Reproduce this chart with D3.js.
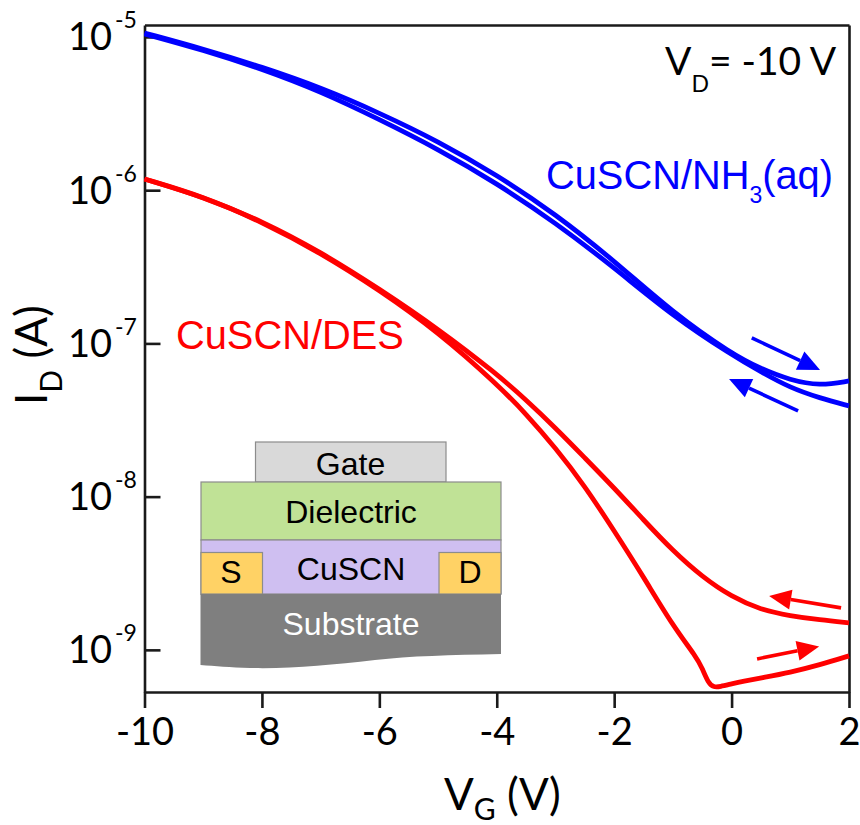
<!DOCTYPE html>
<html>
<head>
<meta charset="utf-8">
<script src="https://cdn.jsdelivr.net/npm/d3@7"></script>
<style>
  body { margin: 0; background: #fff; }
  svg { display: block; }
  text { font-family: Lato, sans-serif; fill: #000; }
  .inset text, .series-label { font-family: "Liberation Sans", Arial, sans-serif; }
  .axis path, .axis line { stroke: #1a1a1a; stroke-width: 2.6px; }
  .curve { fill: none; stroke-width: 4.8px; stroke-linejoin: round; stroke-linecap: butt; }
</style>
</head>
<body>
<svg width="860" height="825"></svg>
<script>
// gate voltage (V) and log10 of drain current (A)
const blueV = [-10, -9, -8, -7, -6, -5, -4, -3, -2, -1, 0, 0.5, 1, 1.5, 2];
const blueForward = [-4.974, -5.078, -5.196, -5.330, -5.495, -5.680, -5.900, -6.155, -6.460, -6.800, -7.068, -7.166, -7.240, -7.277, -7.245];
const blueReverse = [-4.980, -5.085, -5.209, -5.356, -5.538, -5.732, -5.955, -6.212, -6.505, -6.822, -7.075, -7.186, -7.290, -7.356, -7.408];

const redReverseV = [-10, -9, -8, -7, -6, -5, -4, -3.5, -3, -2.5, -2, -1.5, -1, -0.5, 0, 0.5, 1, 1.5, 2];
const redReverse = [-5.927, -6.044, -6.201, -6.403, -6.644, -6.905, -7.199, -7.369, -7.551, -7.747, -7.943, -8.152, -8.354, -8.524, -8.654, -8.739, -8.778, -8.804, -8.824];

const redForwardV = [-10, -9, -8, -7, -6, -5, -4, -3.5, -3, -2.5, -2, -1.5, -1, -0.6, -0.5, -0.4, -0.3, -0.2, 0, 0.2, 0.5, 1, 1.5, 2];
const redForward = [-5.927, -6.041, -6.207, -6.409, -6.651, -6.925, -7.264, -7.460, -7.682, -7.930, -8.223, -8.524, -8.843, -9.046, -9.120, -9.215, -9.245, -9.240, -9.222, -9.205, -9.183, -9.147, -9.098, -9.039];

const xTicks = [-10, -8, -6, -4, -2, 0, 2];
const yExponents = [-5, -6, -7, -8, -9];

const svg = d3.select('svg');
const margin = {top: 25, right: 11, bottom: 133, left: 144.5};
const width = +svg.attr('width');
const height = +svg.attr('height');

const xScale = d3.scaleLinear()
    .domain([-10, 2])
    .range([margin.left, width - margin.right]);

const yScale = d3.scaleLog()
    .domain([Math.pow(10, -9.275), Math.pow(10, -4.922)])
    .range([height - margin.bottom, margin.top]);

const pos = (v, logI) => [xScale(v), yScale(Math.pow(10, logI))];

// axes and frame
const xAxis = d3.axisBottom(xScale).tickValues(xTicks).tickSize(16).tickFormat('');
const yAxis = d3.axisLeft(yScale).tickValues(yExponents.map(e => Math.pow(10, e))).tickSize(-16).tickFormat('');

const xAxisG = svg.append('g')
    .attr('class', 'axis')
    .attr('transform', `translate(0, ${height - margin.bottom})`)
    .call(xAxis.tickSizeOuter(0));

const yAxisG = svg.append('g')
    .attr('class', 'axis')
    .attr('transform', `translate(${margin.left}, 0)`)
    .call(yAxis.tickSizeOuter(0));

svg.append('g')
    .attr('class', 'axis')
    .attr('transform', `translate(0, ${margin.top})`)
    .call(d3.axisTop(xScale).tickValues([]).tickSizeOuter(0));

svg.append('g')
    .attr('class', 'axis')
    .attr('transform', `translate(${width - margin.right}, 0)`)
    .call(d3.axisRight(yScale).tickValues([]).tickSizeOuter(0));

// tick labels
xAxisG.selectAll('.tick').append('text')
    .attr('y', 53)
    .attr('text-anchor', 'middle')
    .attr('font-size', 38)
    .text(d => d);

yExponents.forEach(e => {
    const y = yScale(Math.pow(10, e));
    svg.append('text')
        .attr('x', 112)
        .attr('y', y + 13.5)
        .attr('text-anchor', 'end')
        .attr('font-size', 38)
        .text('10');
    svg.append('text')
        .attr('x', 115)
        .attr('y', y - 8.5)
        .attr('font-size', 23)
        .text(e);
});

// inset device stack, under the curves
const inset = svg.append('g').attr('class', 'inset');

const layer = (x, y, w, h, fill) => inset.append('rect')
    .attr('x', x).attr('y', y).attr('width', w).attr('height', h)
    .attr('fill', fill).attr('stroke', '#8c8c8c').attr('stroke-width', 1.2);

layer(255.5, 442, 190.5, 40, '#d9d9d9');
layer(201, 482, 300, 58, '#c0e296');
layer(201, 540, 300, 54, '#cfbff1');
layer(201, 552.5, 61.5, 41.5, '#ffd265');
layer(439, 552.5, 62, 41.5, '#ffd265');

inset.append('path')
    .attr('d', 'M200.5,594 H501 V654 C450,655 410,656 375,660 C330,665 290,669 250,668 C230,667.5 215,666 200.5,665 Z')
    .attr('fill', '#7f7f7f');

const insetLabel = (label, x, y, fill) => inset.append('text')
    .attr('x', x).attr('y', y)
    .attr('text-anchor', 'middle')
    .attr('font-size', 32)
    .style('fill', fill)
    .text(label);

insetLabel('Gate', 350.5, 475, '#000');
insetLabel('Dielectric', 351, 523, '#000');
insetLabel('CuSCN', 351, 580, '#000');
insetLabel('S', 231, 583, '#000');
insetLabel('D', 470, 583, '#000');
insetLabel('Substrate', 351, 635, '#fff');

// curves
const line = d3.line()
    .x(d => xScale(d[0]))
    .y(d => yScale(Math.pow(10, d[1])))
    .curve(d3.curveBasis);

const drawCurve = (vs, logs, color) => svg.append('path')
    .attr('class', 'curve')
    .attr('stroke', color)
    .attr('d', line(vs.map((v, i) => [v, logs[i]])));

drawCurve(blueV, blueForward, '#0000ff');
drawCurve(blueV, blueReverse, '#0000ff');
drawCurve(redReverseV, redReverse, '#ff0000');
drawCurve(redForwardV, redForward, '#ff0000');

// sweep direction arrows
const drawArrow = (from, to, color) => {
    const [x0, y0] = pos(from[0], from[1]);
    const [x1, y1] = pos(to[0], to[1]);
    const a = Math.atan2(y1 - y0, x1 - x0);
    const headLen = 22;
    const headHalf = 10;
    const bx = x1 - headLen * Math.cos(a);
    const by = y1 - headLen * Math.sin(a);
    svg.append('line')
        .attr('x1', x0).attr('y1', y0).attr('x2', bx).attr('y2', by)
        .attr('stroke', color).attr('stroke-width', 3.6);
    svg.append('polygon')
        .attr('points', [
            [x1, y1],
            [bx - headHalf * Math.sin(a), by + headHalf * Math.cos(a)],
            [bx + headHalf * Math.sin(a), by - headHalf * Math.cos(a)]
        ].join(' '))
        .attr('fill', color);
};

drawArrow([0.344, -6.964], [1.507, -7.173], '#0000ff');
drawArrow([1.133, -7.440], [-0.043, -7.232], '#0000ff');
drawArrow([1.865, -8.726], [0.639, -8.648], '#ff0000');
drawArrow([0.434, -9.059], [1.491, -8.978], '#ff0000');

// series labels
const blueLabel = svg.append('text')
    .attr('class', 'series-label')
    .attr('x', 546)
    .attr('y', 189)
    .attr('font-size', 39.8)
    .style('fill', '#0000ff');
blueLabel.append('tspan').text('CuSCN/NH');
blueLabel.append('tspan').attr('dy', 14).attr('font-size', 23).text('3');
blueLabel.append('tspan').attr('dy', -14).text('(aq)');

svg.append('text')
    .attr('class', 'series-label')
    .attr('x', 176)
    .attr('y', 349)
    .attr('font-size', 39.8)
    .style('fill', '#ff0000')
    .text('CuSCN/DES');

// V_D note
const vdLabel = svg.append('text').attr('x', 665).attr('y', 75).attr('font-size', 39);
vdLabel.append('tspan').text('V');
vdLabel.append('tspan').attr('dy', 17).attr('font-size', 23).text('D');
vdLabel.append('tspan').attr('dy', -17).text('= -10 V');

// axis titles
const xTitle = svg.append('text').attr('x', 444).attr('y', 810).attr('font-size', 44);
xTitle.append('tspan').text('V');
xTitle.append('tspan').attr('dy', 10).attr('font-size', 30).text('G');
xTitle.append('tspan').attr('dy', -10).text(' (V)');

const yTitle = svg.append('text')
    .attr('transform', 'translate(47, 405) rotate(-90)')
    .attr('font-size', 44);
yTitle.append('tspan').text('I');
yTitle.append('tspan').attr('dy', 15).attr('font-size', 30).text('D');
yTitle.append('tspan').attr('dy', -15).text(' (A)');
</script>
</body>
</html>
